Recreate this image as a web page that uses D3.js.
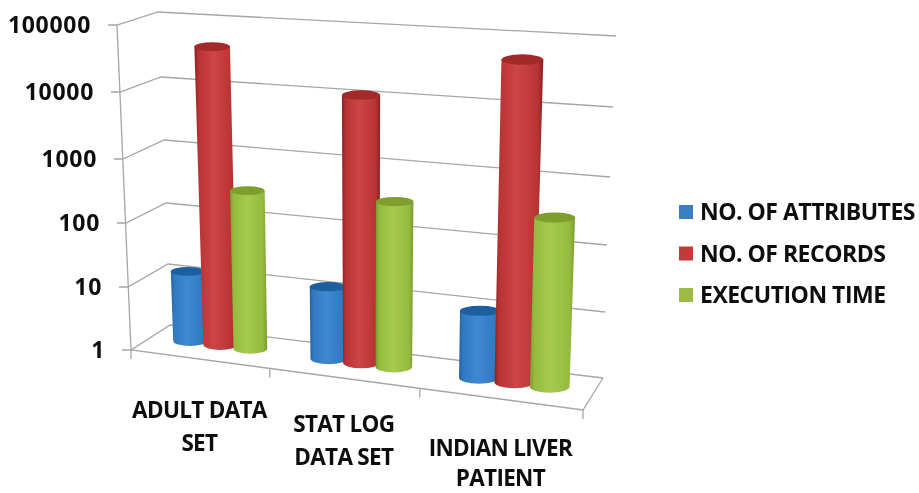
<!DOCTYPE html>
<html lang="en">
<head>
	<meta charset="UTF-8"/>
	<title>Data sets</title>
	<script src="https://d3js.org/d3.v7.min.js"></script>
	<style>
		body { margin: 0; background-color: white; }
		text { font-family: "Open Sans", sans-serif; font-weight: 700; fill: #111; }
	</style>
</head>
<body>
	<script>
	var w = 919;
	var h = 493;

	var categories = [["ADULT DATA", "SET"], ["STAT LOG", "DATA SET"], ["INDIAN LIVER", "PATIENT"]];
	var seriesNames = ["NO. OF ATTRIBUTES", "NO. OF RECORDS", "EXECUTION TIME"];
	var attributes = [13, 13, 10];
	var records = [42000, 11000, 48000];
	var executionTime = [300, 320, 300];
	var tickValues = [1, 10, 100, 1000, 10000, 100000];

	var seriesValues = [attributes, records, executionTime];

	// corners of the 3d box, one scale per vertical edge
	function edge(xs, ys) {
		return {
			x: d3.scaleLog().domain(tickValues).range(xs),
			y: d3.scaleLog().domain(tickValues).range(ys)
		};
	}
	var frontLeft = edge([131, 128, 126, 123, 120, 117], [350, 287, 223, 159, 92, 25]);
	var backLeft = edge([170, 168, 166, 164, 161, 158], [325, 264, 203, 140, 77, 12]);
	var backRight = edge([603, 605, 607, 610, 613, 616], [378, 312, 245, 177, 107, 36]);
	var frontRight = edge([583, 586, 589, 591, 594, 597], [410, 338, 267, 195, 122, 47]);

	// a goes left to right on the floor, b goes front to back
	function project(a, b, v) {
		var fx = frontLeft.x(v) + (frontRight.x(v) - frontLeft.x(v)) * a;
		var fy = frontLeft.y(v) + (frontRight.y(v) - frontLeft.y(v)) * a;
		var bx = backLeft.x(v) + (backRight.x(v) - backLeft.x(v)) * a;
		var by = backLeft.y(v) + (backRight.y(v) - backLeft.y(v)) * a;
		return { x: fx + (bx - fx) * b, y: fy + (by - fy) * b };
	}

	// categories get wider towards the viewer's right
	var catEdge = d3.scaleLinear().domain([0, 1, 2, 3]).range([0, 0.307, 0.639, 1]);
	var seriesBand = d3.scaleBand()
		.domain(d3.range(3))
		.range([0, 1])
		.paddingInner(0)
		.paddingOuter(0.75);
	var barDepth = 0.55;

	var svg = d3.select("body")
		.append("svg")
		.attr("width", w)
		.attr("height", h)
		.style("display", "block");

	var defs = svg.append("defs");
	defs.append("filter").attr("id", "soft")
		.append("feGaussianBlur").attr("stdDeviation", 0.45);

	var barColors = [
		{ edge: "#22639f", base: "#3079c2", mid: "#4088d2", cap: "#1f5f9f", swatch: "#3b7fc1" },
		{ edge: "#8a2322", base: "#b93333", mid: "#cc4646", cap: "#a32a29", swatch: "#c23a38" },
		{ edge: "#7b9b2f", base: "#94bb3f", mid: "#a6cb4c", cap: "#7e9e2e", swatch: "#9bbd45" }
	];
	barColors.forEach(function(c, i) {
		var g = defs.append("linearGradient").attr("id", "bar" + i);
		g.append("stop").attr("offset", "0%").attr("stop-color", c.edge);
		g.append("stop").attr("offset", "10%").attr("stop-color", c.base);
		g.append("stop").attr("offset", "45%").attr("stop-color", c.mid);
		g.append("stop").attr("offset", "88%").attr("stop-color", c.base);
		g.append("stop").attr("offset", "100%").attr("stop-color", c.edge);
	});

	var chart = svg.append("g").attr("filter", "url(#soft)");

	// gridlines on side wall and back wall
	var grid = chart.append("g")
		.attr("fill", "none")
		.attr("stroke", "#a6a6a6")
		.attr("stroke-width", 1.3);

	grid.selectAll("path.wall")
		.data(tickValues)
		.enter()
		.append("path")
		.attr("class", "wall")
		.attr("d", function(v) {
			return d3.line()([
				[frontLeft.x(v) - 9, frontLeft.y(v)],
				[frontLeft.x(v), frontLeft.y(v)],
				[backLeft.x(v), backLeft.y(v)],
				[backRight.x(v), backRight.y(v)]
			]);
		});

	// left axis and floor outline
	grid.append("path").attr("d", d3.line()([
		[frontLeft.x(100000), frontLeft.y(100000)],
		[frontLeft.x(1), frontLeft.y(1)],
		[frontRight.x(1), frontRight.y(1)],
		[backRight.x(1), backRight.y(1)]
	]));

	grid.selectAll("path.tick")
		.data([0, 1, 2, 3])
		.enter()
		.append("path")
		.attr("class", "tick")
		.attr("d", function(d) {
			var p = project(catEdge(d), 0, 1);
			return d3.line()([[p.x, p.y], [p.x, p.y + 9]]);
		});

	// cylinders
	function seriesA(c, s, shift) {
		var left = catEdge(c);
		var width = catEdge(c + 1) - left;
		return left + width * (seriesBand(s) + seriesBand.bandwidth() * (0.5 + shift));
	}
	function radius(c, s, v) {
		var p0 = project(seriesA(c, s, -0.5), barDepth, v);
		var p1 = project(seriesA(c, s, 0.5), barDepth, v);
		return (p1.x - p0.x) / 2 * 1.12;
	}

	seriesValues.forEach(function(values, s) {
		var bars = chart.append("g").selectAll("g")
			.data(values)
			.enter()
			.append("g");

		bars.append("path")
			.attr("fill", "url(#bar" + s + ")")
			.attr("d", function(v, c) {
				var base = project(seriesA(c, s, 0), barDepth, 1);
				var top = project(seriesA(c, s, 0), barDepth, v);
				var rb = radius(c, s, 1);
				var rt = radius(c, s, v);
				return "M" + (top.x - rt) + "," + top.y +
					"L" + (base.x - rb) + "," + base.y +
					"A" + rb + "," + (rb * 0.3) + " 0 0 0 " + (base.x + rb) + "," + base.y +
					"L" + (top.x + rt) + "," + top.y + "Z";
			});

		bars.append("ellipse")
			.attr("fill", barColors[s].cap)
			.attr("cx", function(v, c) { return project(seriesA(c, s, 0), barDepth, v).x; })
			.attr("cy", function(v, c) { return project(seriesA(c, s, 0), barDepth, v).y; })
			.attr("rx", function(v, c) { return radius(c, s, v); })
			.attr("ry", function(v, c) { return radius(c, s, v) * 0.25; });
	});

	// value labels
	chart.selectAll("text.value")
		.data(tickValues)
		.enter()
		.append("text")
		.attr("class", "value")
		.attr("text-anchor", "end")
		.attr("font-size", 23)
		.attr("letter-spacing", 0.7)
		.attr("x", function(v) { return frontLeft.x(v) - 26; })
		.attr("y", function(v) { return frontLeft.y(v) + 8; })
		.text(function(v) { return v; });

	// category labels, two lines each
	var labelDrop = [59, 54, 57];
	var lineGap = [33, 33, 30];
	var catLabels = chart.selectAll("text.cat")
		.data(categories)
		.enter()
		.append("text")
		.attr("class", "cat")
		.attr("text-anchor", "middle")
		.attr("font-size", 22.5)
		.attr("letter-spacing", -0.7);
	catLabels.each(function(lines, c) {
		var mid = project((catEdge(c) + catEdge(c + 1)) / 2, 0, 1);
		d3.select(this).selectAll("tspan")
			.data(lines)
			.enter()
			.append("tspan")
			.attr("x", mid.x - 1)
			.attr("y", function(d, i) { return mid.y + labelDrop[c] + i * lineGap[c]; })
			.text(function(d) { return d; });
	});

	// legend
	var legendY = d3.scalePoint().domain(seriesNames).range([220, 303]);
	var legend = chart.selectAll("g.legend")
		.data(seriesNames)
		.enter()
		.append("g")
		.attr("class", "legend")
		.attr("transform", function(d) { return "translate(0," + legendY(d) + ")"; });
	legend.append("rect")
		.attr("x", 679)
		.attr("y", -15)
		.attr("width", 14)
		.attr("height", 14)
		.attr("fill", function(d, i) { return barColors[i].swatch; });
	legend.append("text")
		.attr("x", 700)
		.attr("font-size", 23)
		.attr("letter-spacing", -0.5)
		.text(function(d) { return d; });
	</script>
</body>
</html>
